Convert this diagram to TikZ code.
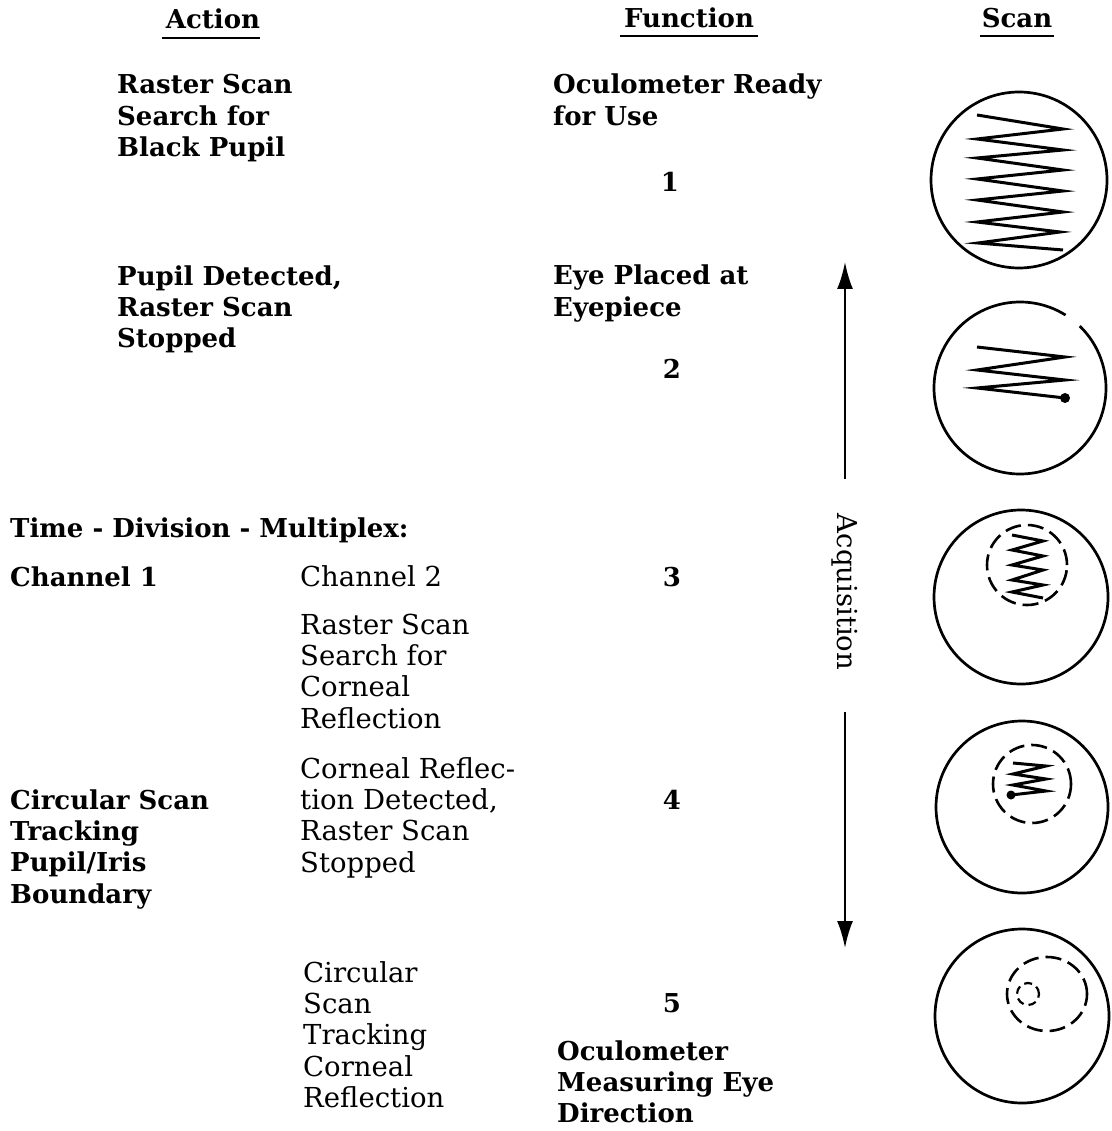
\documentclass[tikz,border=0pt]{standalone}
\usepackage{fontspec}
\setmainfont{DejaVu Serif}
\usetikzlibrary{arrows.meta}
\begin{document}
\begin{tikzpicture}[x=1pt,y=-1pt,
  bt/.style={font=\fontsize{26}{31.4}\selectfont\bfseries, inner sep=0pt, anchor=base west, align=left},
  rt/.style={font=\fontsize{27.5}{31.4}\selectfont, inner sep=0pt, anchor=base west, align=left},
  num/.style={font=\fontsize{26}{31.4}\selectfont\bfseries, inner sep=0pt, anchor=base},
  hd/.style={font=\fontsize{26}{31.4}\selectfont\bfseries, inner sep=0pt, anchor=base},
  ul/.style={line width=2.6pt},
  ring/.style={line width=2.7pt},
  zz/.style={line width=3pt},
  dring/.style={line width=2.6pt, dash pattern=on 16pt off 7pt},
  sdring/.style={line width=2.2pt, dash pattern=on 8pt off 5pt},
  arr/.style={line width=2.4pt, -{Latex[length=27pt,width=16pt]}}
]
\useasboundingbox (0,0) rectangle (1111,1131);
\fill[white] (0,0) rectangle (1111,1131);

% headers
\node[hd] (hAction) at (213,29) {Action};
\node[hd] (hFunc) at (689,28) {Function};
\node[hd] (hScan) at (1017,28) {Scan};
\draw[ul] ([xshift=-4pt,yshift=-9pt]hAction.base west) -- ([yshift=-9pt]hAction.base east);
\draw[ul] ([xshift=-4pt,yshift=-8pt]hFunc.base west) -- ([xshift=4pt,yshift=-8pt]hFunc.base east);
\draw[ul] ([xshift=-2pt,yshift=-8pt]hScan.base west) -- ([xshift=2pt,yshift=-8pt]hScan.base east);

% step 1 (node positions give the baseline of the last line)
\node[bt] (act1) at (117,156.8) {Raster Scan\\Search for\\Black Pupil};
\node[bt] (fun1) at (553,125.4) {Oculometer Ready\\for Use};
\node[num] (n1) at (670,192) {1};

% step 2
\node[bt] (act2) at (117,347.8) {Pupil Detected,\\Raster Scan\\Stopped};
\node[bt] (fun2) at (553,316.4) {Eye Placed at\\Eyepiece};
\node[num] (n2) at (672,378) {2};

% step 3
\node[bt] (tdm) at (10,537) {Time - Division - Multiplex:};
\node[bt] (ch1) at (10,586) {Channel 1};
\node[rt] (ch2) at (300,586) {Channel 2};
\node[num] (n3) at (672,586) {3};
\node[rt] (ch2a) at (300,728.2) {Raster Scan\\Search for\\Corneal\\Reflection};

% step 4
\node[rt] (ch2b) at (300,872.2) {Corneal Reflec-\\tion Detected,\\Raster Scan\\Stopped};
\node[bt] (ch1a) at (10,903.2) {Circular Scan\\Tracking\\Pupil/Iris\\Boundary};
\node[num] (n4) at (672,809) {4};

% step 5
\node[rt] (ch2c) at (303,1107.6) {Circular\\Scan\\Tracking\\Corneal\\Reflection};
\node[num] (n5) at (672,1012) {5};
\node[bt] (fun5) at (557,1122.8) {Oculometer\\Measuring Eye\\Direction};

% acquisition arrow
\node[rt, anchor=center, rotate=-90] (acq) at (845,592) {Acquisition};
\coordinate (upTip) at (845,262);
\coordinate (downTip) at (845,948);
\draw[arr] ([yshift=35pt]acq.west) -- (upTip);
\draw[arr] ([yshift=-42pt]acq.east) -- (downTip);

% scan circles
\draw[ring] (1019,180) circle[radius=88pt];
\draw[zz] (977,115) -- (1063,129) -- (977,139) -- (1063,150) -- (977,158) -- (1063,170) -- (977,179) -- (1063,191) -- (977,200) -- (1063,212) -- (977,222) -- (1060,232) -- (978,243) -- (1063,250);

\draw[ring] (1020,388) ++(58:86pt) arc[start angle=58, end angle=406, radius=86pt];
\draw[zz] (977,347) -- (1065,357) -- (977,370) -- (1065,380) -- (977,388) -- (1065,398);
\fill (1065,398) circle[radius=5pt];

\draw[ring] (1021,597) circle[radius=87pt];
\draw[dring] (1027,565) circle[radius=40pt];
\draw[zz] (1012,535) -- (1043,541) -- (1012,550) -- (1043,556) -- (1012,565) -- (1043,570) -- (1012,580) -- (1043,585) -- (1012,592) -- (1043,598);

\draw[ring] (1022,807) circle[radius=86pt];
\draw[dring] (1032,784) circle[radius=39pt];
\draw[zz] (1013,763) -- (1046,766) -- (1013,774) -- (1046,779) -- (1013,785) -- (1046,791) -- (1011,795);
\fill (1011,795) circle[radius=4.5pt];

\draw[ring] (1022,1016) circle[radius=87pt];
\draw[dring] (1047,994) ellipse[x radius=40pt, y radius=37pt];
\draw[sdring] (1028,994) circle[radius=11pt];
\end{tikzpicture}
\end{document}
